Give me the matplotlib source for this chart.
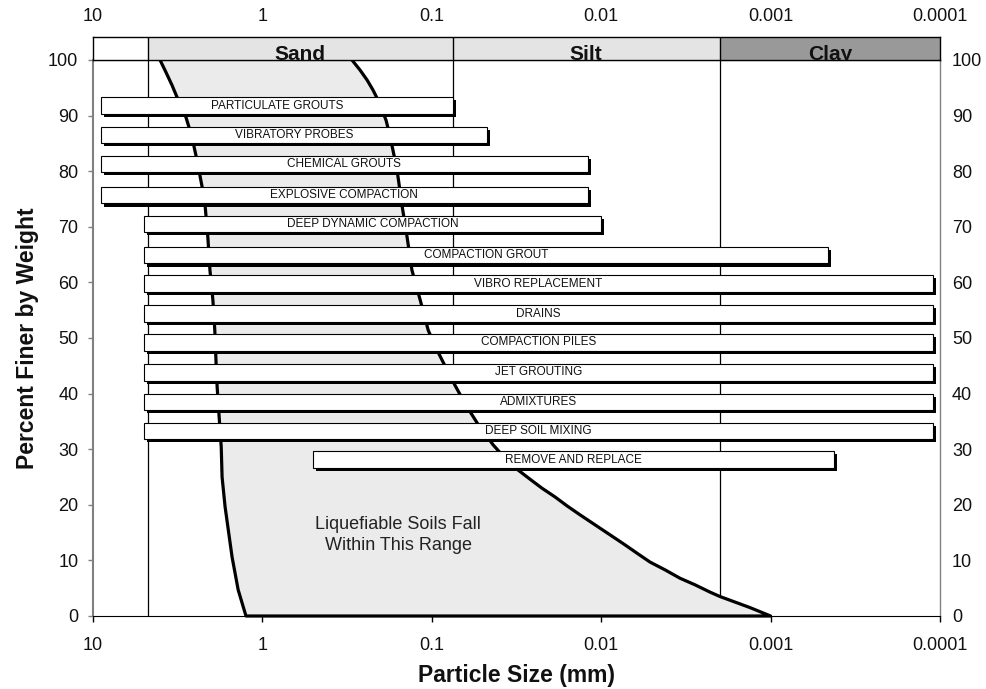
import numpy as np
import matplotlib
matplotlib.use("Agg")
import matplotlib.pyplot as plt
import matplotlib.patheffects as pe
from matplotlib.ticker import NullLocator

plt.rcParams['font.family'] = ['Liberation Sans', 'DejaVu Sans']

# Ground improvement methods and the particle-size range (mm) each applies to
methods = [
    "PARTICULATE GROUTS", "VIBRATORY PROBES", "CHEMICAL GROUTS",
    "EXPLOSIVE COMPACTION", "DEEP DYNAMIC COMPACTION", "COMPACTION GROUT",
    "VIBRO REPLACEMENT", "DRAINS", "COMPACTION PILES", "JET GROUTING",
    "ADMIXTURES", "DEEP SOIL MIXING", "REMOVE AND REPLACE",
]
method_pct = [91.8, 86.5, 81.3, 75.7, 70.5, 64.9, 59.8, 54.4, 49.2, 43.8,
              38.5, 33.3, 28.1]
method_coarse = [9.0, 9.0, 9.0, 9.0, 5.0, 5.0, 5.0, 5.0, 5.0, 5.0, 5.0, 5.0, 0.5]
method_fine = [0.075, 0.047, 0.012, 0.012, 0.01, 0.00046, 0.00011, 0.00011,
               0.00011, 0.00011, 0.00011, 0.00011, 0.00042]

# Gradation envelope of liquefiable soils (coarse and fine boundaries)
coarse_size = [4.02, 3.71, 3.42, 3.19, 2.98, 2.82, 2.68, 2.57, 2.47, 2.37,
               2.27, 2.18, 2.10, 2.04, 1.96, 1.91, 1.88, 1.85, 1.80, 1.75,
               1.73, 1.66, 1.51, 1.39, 1.25]
coarse_pct = [100, 97.8, 95.5, 93.3, 91.4, 89.6, 87.4, 85.3, 82.9, 80.2,
              77.2, 73.9, 68.2, 62.2, 56.8, 51.4, 46.0, 41.2, 35.8, 30.4,
              25.0, 19.6, 10.6, 4.7, 0]
fine_size = [0.296, 0.2654, 0.241, 0.2224, 0.2078, 0.1968, 0.1864, 0.179,
             0.172, 0.1649, 0.1583, 0.150, 0.140, 0.131, 0.117, 0.105,
             0.0945, 0.0836, 0.0730, 0.0628, 0.0534, 0.0435, 0.0370, 0.0314,
             0.0263, 0.0224, 0.0187, 0.0159, 0.01334, 0.01088, 0.00887,
             0.00724, 0.00615, 0.00515, 0.00420, 0.00343, 0.00279, 0.00228,
             0.00199, 0.00162, 0.00132, 0.00116, 0.001]
fine_pct = [100, 98.2, 96.4, 94.6, 92.8, 91.0, 89.2, 87.1, 84.7, 82.0, 79.0,
            73.9, 68.2, 62.2, 56.8, 51.4, 48.2, 45.0, 41.5, 37.9, 34.5, 30.8,
            28.4, 26.4, 24.6, 23.0, 21.4, 19.8, 18.2, 16.4, 14.6, 12.8, 11.3,
            9.7, 8.3, 6.8, 5.6, 4.3, 3.5, 2.5, 1.5, 0.8, 0]

# Soil class boundaries (mm)
class_names = ["Sand", "Silt", "Clay"]
class_bounds = [4.75, 0.075, 0.002, 0.0001]
class_colors = ["#e4e4e4", "#e4e4e4", "#999999"]

decades = [10, 1, 0.1, 0.01, 0.001, 0.0001]
decade_labels = ["10", "1", "0.1", "0.01", "0.001", "0.0001"]
pct_ticks = list(range(0, 101, 10))

W, H = 986, 689
fig = plt.figure(figsize=(W / 100, H / 100), dpi=100)


def px_box(x0, y0, x1, y1):
    return [x0 / W, 1 - y1 / H, (x1 - x0) / W, (y1 - y0) / H]


ax = fig.add_axes(px_box(93, 60, 940, 616))
hax = fig.add_axes(px_box(93, 37, 940, 60))

# ---- main panel ----
ax.set_xscale('log')
ax.set_xlim(10, 1e-4)
ax.set_ylim(0, 100)
ax.xaxis.set_minor_locator(NullLocator())
ax.set_xticks(decades, labels=decade_labels)
ax.set_yticks(pct_ticks)
ax.tick_params(axis='x', direction='out', length=4.3, width=1, color='black',
               labelsize=13, pad=10.5, labelcolor='#111111')
ax.tick_params(axis='y', direction='out', length=3.6, width=1, color='#808080',
               labelsize=13, pad=7.0, labelcolor='#111111')
ax.spines['left'].set_color('#808080')
ax.spines['left'].set_linewidth(1.5)
ax.spines['right'].set_color('#808080')
ax.spines['right'].set_linewidth(1.0)
ax.spines['top'].set_color('black')
ax.spines['bottom'].set_color('black')

for b in class_bounds[:3]:
    ax.axvline(b, color='black', lw=0.9, zorder=1)

env_x = np.concatenate([coarse_size, fine_size[::-1]])
env_y = np.concatenate([coarse_pct, fine_pct[::-1]])
ax.fill(env_x, env_y, facecolor='#ebebeb', edgecolor='none', zorder=2)
ax.plot(env_x, env_y, color='black', lw=2.3, zorder=3, clip_on=False,
        solid_capstyle='butt', solid_joinstyle='round')

ax.text(0.158, 14.6, "Liquefiable Soils Fall\nWithin This Range",
        ha='center', va='center', fontsize=13, color='#222222',
        linespacing=1.35, zorder=4)

coarse_arr = np.array(method_coarse)
fine_arr = np.array(method_fine)
bars = ax.barh(method_pct, width=coarse_arr - fine_arr, left=fine_arr,
               height=3.0, color='white', edgecolor='black', linewidth=0.8,
               zorder=5)
for patch in bars:
    patch.set_path_effects([
        pe.SimplePatchShadow(offset=(2.2, -2.2), shadow_rgbFace='black', alpha=1.0),
        pe.Normal(),
    ])
for name, y, c, f in zip(methods, method_pct, coarse_arr, fine_arr):
    ax.text(np.sqrt(c * f), y, name, ha='center', va='center',
            fontsize=8.5, color='#111111', zorder=6)

# right-hand percentage labels
ax2 = ax.twinx()
ax2.set_ylim(0, 100)
ax2.set_yticks(pct_ticks)
ax2.tick_params(axis='y', length=0, labelsize=13, pad=8.6, labelcolor='#111111')
for s in ax2.spines.values():
    s.set_visible(False)

# ---- soil class header ----
hax.set_xscale('log')
hax.set_xlim(10, 1e-4)
hax.set_ylim(0, 1)
hax.set_yticks([])
hax.xaxis.set_minor_locator(NullLocator())
hax.xaxis.tick_top()
hax.set_xticks(decades, labels=decade_labels)
hax.tick_params(axis='x', length=0, labelsize=13, pad=8.6, labelcolor='#111111')
for s in hax.spines.values():
    s.set_color('black')
    s.set_linewidth(1.0)
for name, lo, hi, col in zip(class_names, class_bounds[:-1], class_bounds[1:],
                             class_colors):
    hax.axvspan(hi, lo, color=col, lw=0, zorder=1)
    hax.text(np.sqrt(lo * hi), 0.02, name, transform=hax.get_xaxis_transform(),
             ha='center', va='baseline', fontsize=15, fontweight='bold',
             color='#111111', clip_on=True, zorder=3)
for b in class_bounds[:3]:
    hax.axvline(b, color='black', lw=1.0, zorder=2)

fig.text(28 / W, 1 - 338 / H, "Percent Finer by Weight", rotation=90,
         ha='center', va='center', fontsize=16.5, fontweight='bold',
         color='#111111')
fig.text(516 / W, 1 - 682 / H, "Particle Size (mm)", ha='center',
         va='baseline', fontsize=16.5, fontweight='bold', color='#111111')

fig.savefig('out.png', dpi=100)
